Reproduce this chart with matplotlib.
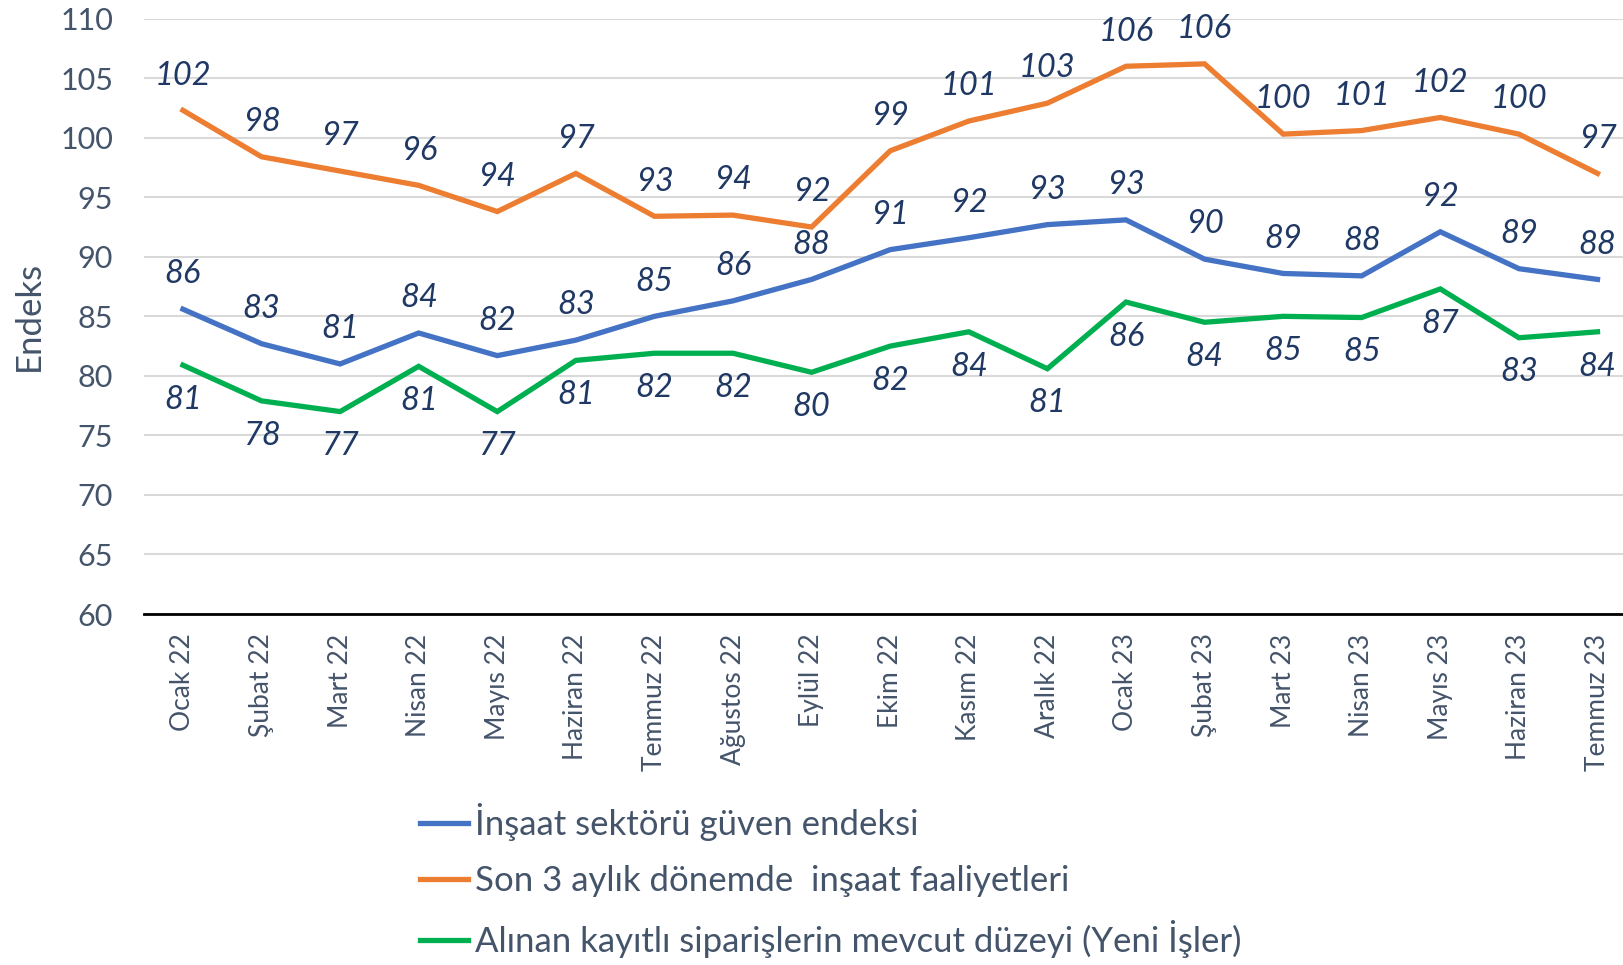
import numpy as np
import matplotlib.pyplot as plt

plt.rcParams['font.family'] = ['Lato', 'DejaVu Sans']

# Veriler
aylar = ['Ocak 22', 'Şubat 22', 'Mart 22', 'Nisan 22', 'Mayıs 22', 'Haziran 22',
         'Temmuz 22', 'Ağustos 22', 'Eylül 22', 'Ekim 22', 'Kasım 22', 'Aralık 22',
         'Ocak 23', 'Şubat 23', 'Mart 23', 'Nisan 23', 'Mayıs 23', 'Haziran 23',
         'Temmuz 23']

guven = [85.6, 82.7, 81.0, 83.6, 81.7, 83.0, 85.0, 86.3, 88.1, 90.6, 91.6, 92.7,
         93.1, 89.8, 88.6, 88.4, 92.1, 89.0, 88.1]
faaliyet = [102.3, 98.4, 97.2, 96.0, 93.8, 97.0, 93.4, 93.5, 92.5, 98.9, 101.4, 102.9,
            106.0, 106.2, 100.3, 100.6, 101.7, 100.3, 97.0]
siparis = [80.9, 77.9, 77.0, 80.8, 77.0, 81.3, 81.9, 81.9, 80.3, 82.5, 83.7, 80.6,
           86.2, 84.5, 85.0, 84.9, 87.3, 83.2, 83.7]

seri_adlari = ['İnşaat sektörü güven endeksi',
               'Son 3 aylık dönemde  inşaat faaliyetleri',
               'Alınan kayıtlı siparişlerin mevcut düzeyi (Yeni İşler)']
renkler = ['#4472C4', '#ED7D31', '#00B050']

etiket_renk = '#1F3864'
eksen_renk = '#44546A'

fig = plt.figure(figsize=(16.23, 9.65), dpi=100)
ax = fig.add_axes([0.0885, 0.3637, 0.92, 0.617])

x = np.arange(len(aylar))
seriler = [guven, faaliyet, siparis]
yon = [1, 1, -1]  # etiket yukari / asagi

for veri, ad, renk, d in zip(seriler, seri_adlari, renkler, yon):
    ax.plot(x, veri, color=renk, lw=3.8, label=ad, solid_joinstyle='miter')
    for xi, yi in zip(x, veri):
        ax.annotate(f'{round(yi):d}', (xi, yi), xytext=(0, 25 * d),
                    textcoords='offset points', ha='center', va='center',
                    fontsize=23.5, style='italic', color=etiket_renk)

ax.set_xlim(-0.5, len(aylar) - 0.5)
ax.set_ylim(60, 110)
ax.set_yticks(np.arange(60, 111, 5))
ax.set_xticks(x)
ax.set_xticklabels(aylar, rotation=90)
ax.grid(axis='y', color='#D9D9D9', lw=1.5)
ax.set_axisbelow(True)

for s in ['top', 'right', 'left']:
    ax.spines[s].set_visible(False)
ax.spines['bottom'].set_color('black')
ax.spines['bottom'].set_linewidth(2)

ax.tick_params(axis='y', length=0, pad=22, labelsize=22, labelcolor=eksen_renk)
ax.tick_params(axis='x', length=0, pad=14, labelsize=19, labelcolor=eksen_renk)

ax.set_ylabel('Endeks', fontsize=25, color=eksen_renk)
ax.yaxis.set_label_coords(-0.066, 0.50)

fig.legend(loc='upper left', bbox_to_anchor=(0.250, 0.182), frameon=False,
           fontsize=25, labelcolor=eksen_renk, handlelength=1.4,
           handletextpad=0.2, labelspacing=0.68, borderaxespad=0)

fig.savefig('out.png', dpi=100)
